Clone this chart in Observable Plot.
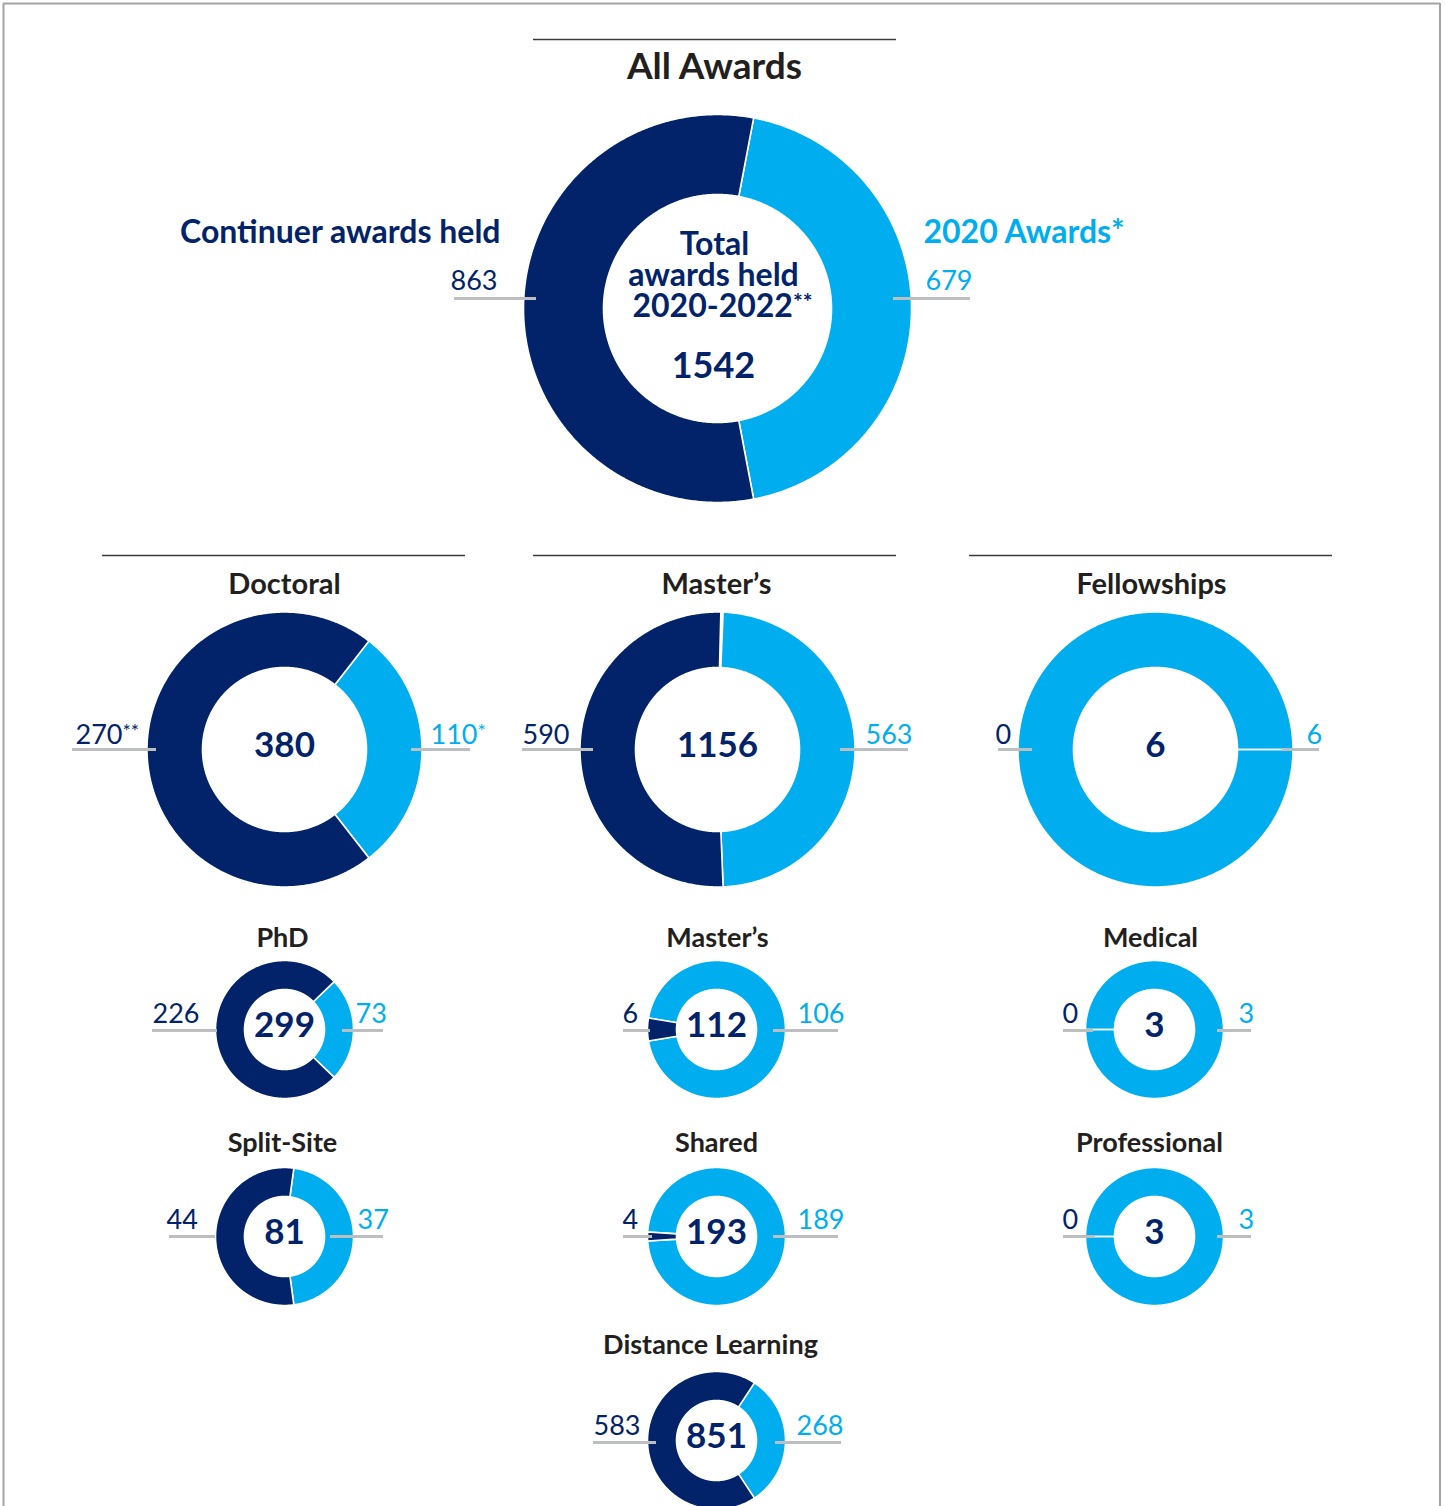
<!DOCTYPE html>
<html>
<head>
<meta charset="utf-8">
<script src="https://cdn.jsdelivr.net/npm/d3@7"></script>
<script src="https://cdn.jsdelivr.net/npm/@observablehq/plot@0.6"></script>
<style>
  body { margin: 0; background: #fff; }
  svg { display: block; }
</style>
</head>
<body>
<div id="chart"></div>
<script>
// ---------- DATA ----------
const groups = ["All Awards", "Doctoral", "Master’s", "Fellowships", "PhD", "Master’s", "Medical", "Split-Site", "Shared", "Professional", "Distance Learning"];
const continuerAwards = [863, 270, 590, 0, 226, 6, 0, 44, 4, 0, 583];
const newAwards2020   = [679, 110, 563, 6, 73, 106, 3, 37, 189, 3, 268];
const totalAwards     = [1542, 380, 1156, 6, 299, 112, 3, 81, 193, 3, 851];
const continuerNotes  = ["", "**", "", "", "", "", "", "", "", "", ""];
const newNotes        = ["", "*", "", "", "", "", "", "", "", "", ""];
const seriesNames = ["Continuer awards held", "2020 Awards*"];
const centreTitleLines = ["Total", "awards held", "2020-2022^**"];

// ---------- LAYOUT (positions / sizes only) ----------
const layout = [
  {cx: 717,  cy: 308,  ro: 194,   ri: 114, rot: 90,  tx: 714,  ty: 78,   ts: 37, leadY: 298,  lLead: [454, 536],  rLead: [893, 970],   labY: 289,  lx: 497,  rx: 925,  nx: 713, ny: 377},
  {cx: 284,  cy: 749,  ro: 137.5, ri: 82,  rot: 90,  tx: 284,  ty: 593,  ts: 29, leadY: 749,  lLead: [72, 156],   rLead: [411, 470],   labY: 743,  lx: 75,   rx: 430},
  {cx: 717,  cy: 749,  ro: 137.5, ri: 82,  rot: 90,  tx: 716,  ty: 593,  ts: 29, leadY: 749,  lLead: [522, 593],  rLead: [840, 908],   labY: 743,  lx: 522,  rx: 865},
  {cx: 1155, cy: 749,  ro: 137.5, ri: 82,  rot: 270, tx: 1151, ty: 593,  ts: 29, leadY: 749,  lLead: [998, 1032], rLead: [1282, 1319], labY: 743,  lx: 995,  rx: 1306},
  {cx: 284,  cy: 1029, ro: 69,    ri: 40,  rot: 90,  tx: 282,  ty: 946,  ts: 27, leadY: 1030, lLead: [152, 217],  rLead: [342, 383],   labY: 1022, lx: 152,  rx: 355},
  {cx: 716,  cy: 1029, ro: 69,    ri: 40,  rot: 90,  tx: 717,  ty: 946,  ts: 27, leadY: 1030, lLead: [623, 650],  rLead: [773, 838],   labY: 1022, lx: 622,  rx: 797},
  {cx: 1154, cy: 1029, ro: 69,    ri: 40,  rot: 90,  tx: 1150, ty: 946,  ts: 27, leadY: 1030, lLead: [1063, 1093],rLead: [1217, 1251], labY: 1022, lx: 1062, rx: 1238},
  {cx: 284,  cy: 1236, ro: 69,    ri: 40,  rot: 90,  tx: 282,  ty: 1151, ts: 27, leadY: 1236, lLead: [169, 215],  rLead: [330, 383],   labY: 1228, lx: 166,  rx: 357},
  {cx: 716,  cy: 1236, ro: 69,    ri: 40,  rot: 90,  tx: 716,  ty: 1151, ts: 27, leadY: 1236, lLead: [623, 652],  rLead: [773, 838],   labY: 1228, lx: 622,  rx: 797},
  {cx: 1154, cy: 1236, ro: 69,    ri: 40,  rot: 90,  tx: 1149, ty: 1151, ts: 27, leadY: 1236, lLead: [1063, 1095],rLead: [1217, 1251], labY: 1228, lx: 1062, rx: 1238},
  {cx: 716,  cy: 1440, ro: 69,    ri: 40,  rot: 90,  tx: 710,  ty: 1353, ts: 27, leadY: 1442, lLead: [593, 656],  rLead: [775, 841],   labY: 1434, lx: 593,  rx: 796}
];
const seriesLabelPos = [{x: 500, y: 242, anchor: "end"}, {x: 923, y: 242, anchor: "start"}];
const centreTitlePos = [{x: 714, y: 254}, {x: 713, y: 285}, {x: 722, y: 316}];
const separators = [{y: 39, x1: 533, x2: 896}, {y: 555, x1: 102, x2: 465}, {y: 555, x1: 533, x2: 896}, {y: 555, x1: 969, x2: 1332}];

const NAVY = "#022369";
const LIGHT = "#00aeef";

// ---------- Build ring polygons from values ----------
const points = [];
groups.forEach((g, i) => {
  const L = layout[i];
  const spanNew = 360 * newAwards2020[i] / totalAwards[i];
  const spanCont = 360 * continuerAwards[i] / totalAwards[i];
  const slices = [
    {series: seriesNames[1], a0: L.rot - spanNew / 2, a1: L.rot + spanNew / 2},
    {series: seriesNames[0], a0: L.rot + spanNew / 2, a1: L.rot + spanNew / 2 + spanCont}
  ];
  slices.forEach((s, k) => {
    const id = i + "-" + k;
    const n = Math.max(1, Math.ceil((s.a1 - s.a0) / 0.5));
    const poly = [];
    for (let j = 0; j <= n; j++) {
      const a = (s.a0 + (s.a1 - s.a0) * j / n) * Math.PI / 180;
      poly.push({x: L.cx + L.ro * Math.sin(a), y: L.cy - L.ro * Math.cos(a)});
    }
    for (let j = n; j >= 0; j--) {
      const a = (s.a0 + (s.a1 - s.a0) * j / n) * Math.PI / 180;
      poly.push({x: L.cx + L.ri * Math.sin(a), y: L.cy - L.ri * Math.cos(a)});
    }
    poly.push(poly[0]);
    poly.forEach(p => points.push({...p, slice: id, series: s.series}));
  });
});

const leaders = [];
const leftLabels = [];
const rightLabels = [];
const centres = [];
const titles = [];
groups.forEach((g, i) => {
  const L = layout[i];
  leaders.push({y: L.leadY, x1: L.lLead[0], x2: L.lLead[1]});
  leaders.push({y: L.leadY, x1: L.rLead[0], x2: L.rLead[1]});
  leftLabels.push({x: L.lx, y: L.labY, text: continuerAwards[i] + (continuerNotes[i] ? "^" + continuerNotes[i] : ""), main: i === 0});
  rightLabels.push({x: L.rx, y: L.labY, text: newAwards2020[i] + (newNotes[i] ? "^" + newNotes[i] : "")});
  if (i === 0) centres.push({x: L.nx, y: L.ny, text: String(totalAwards[i]), main: true});
  else centres.push({x: L.cx, y: L.cy - 4, text: String(totalAwards[i]), main: false});
  titles.push({x: L.tx, y: L.ty, text: g, size: L.ts});
});
const centreTitleData = centreTitleLines.map((t, i) => ({...centreTitlePos[i], text: t}));

const FONT = "Lato, 'Noto Sans', sans-serif";

const svg = Plot.plot({
  width: 1445,
  height: 1506,
  margin: 0,
  x: {domain: [0, 1445], range: [0, 1445], axis: null},
  y: {domain: [0, 1506], range: [0, 1506], axis: null},
  color: {domain: seriesNames, range: [NAVY, LIGHT]},
  style: {fontFamily: FONT, background: "white"},
  marks: [
    // frame
    Plot.ruleY([3], {x1: 3, x2: 1440, stroke: "#a3a3a3", strokeWidth: 2}),
    Plot.ruleX([3, 1439.5], {y1: 3, y2: 1506, stroke: "#a3a3a3", strokeWidth: 2}),
    // separators
    Plot.ruleY(separators, {y: "y", x1: "x1", x2: "x2", stroke: "#3a3a3c", strokeWidth: 1.4}),
    // donut slices
    Plot.line(points, {x: "x", y: "y", z: "slice", fill: "series", stroke: "white", strokeWidth: 1.6, curve: "linear"}),
    // leader lines
    Plot.ruleY(leaders, {y: "y", x1: "x1", x2: "x2", stroke: "#bcbec0", strokeWidth: 3}),
    // titles
    Plot.text(titles, {x: "x", y: "y", text: "text", fontSize: "size", fontWeight: "bold", fill: "#231f20", lineAnchor: "bottom", textAnchor: "middle", fontFamily: FONT}),
    // series labels (All Awards)
    Plot.text([seriesLabelPos[0]], {x: "x", y: "y", text: () => seriesNames[0], fontSize: 32, fontWeight: "bold", fill: NAVY, lineAnchor: "bottom", textAnchor: "end", fontFamily: FONT}),
    Plot.text([seriesLabelPos[1]], {x: "x", y: "y", text: () => seriesNames[1], fontSize: 32, fontWeight: "bold", fill: LIGHT, lineAnchor: "bottom", textAnchor: "start", fontFamily: FONT}),
    // value labels
    Plot.text(leftLabels.filter(d => d.main), {x: "x", y: "y", text: "text", fontSize: 27, fill: NAVY, lineAnchor: "bottom", textAnchor: "end", fontFamily: FONT}),
    Plot.text(leftLabels.filter(d => !d.main), {x: "x", y: "y", text: "text", fontSize: 27, fill: NAVY, lineAnchor: "bottom", textAnchor: "start", fontFamily: FONT}),
    Plot.text(rightLabels, {x: "x", y: "y", text: "text", fontSize: 27, fill: LIGHT, lineAnchor: "bottom", textAnchor: "start", fontFamily: FONT}),
    // centre totals
    Plot.text(centres.filter(d => d.main), {x: "x", y: "y", text: "text", fontSize: 36, fontWeight: "bold", fill: NAVY, lineAnchor: "bottom", textAnchor: "middle", fontFamily: FONT}),
    Plot.text(centres.filter(d => !d.main), {x: "x", y: "y", text: "text", fontSize: 35, fontWeight: "bold", fill: NAVY, lineAnchor: "middle", textAnchor: "middle", fontFamily: FONT}),
    // centre title of All Awards
    Plot.text(centreTitleData, {x: "x", y: "y", text: "text", fontSize: 32, fontWeight: "bold", fill: NAVY, lineAnchor: "bottom", textAnchor: "middle", fontFamily: FONT})
  ]
});

// superscript notes marked with "^"
const NS = "http://www.w3.org/2000/svg";
svg.querySelectorAll("text, tspan").forEach(el => {
  if (el.children.length) return;
  const t = el.textContent;
  const k = t.indexOf("^");
  if (k < 0) return;
  el.textContent = t.slice(0, k);
  const sup = document.createElementNS(NS, "tspan");
  sup.textContent = t.slice(k + 1);
  sup.setAttribute("font-size", "0.72em");
  sup.setAttribute("dy", "-0.3em");
  el.appendChild(sup);
});

document.getElementById("chart").appendChild(svg);
</script>
</body>
</html>
